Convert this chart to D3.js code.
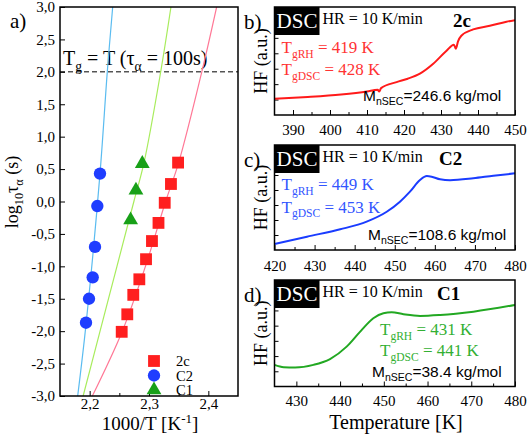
<!DOCTYPE html>
<html><head><meta charset="utf-8">
<script src="https://cdn.jsdelivr.net/npm/d3@7/dist/d3.min.js"></script>
<style>body{margin:0;background:#fff}svg{display:block}</style>
</head><body>
<svg id="c" width="529" height="435"></svg>
<script>
// ---------- Panel a data ----------
const seriesNames = ["2c", "C2", "C1"];
const x2c = [2.349, 2.337, 2.3265, 2.316, 2.305, 2.295, 2.2837, 2.2735, 2.2634, 2.254];
const y2c = [0.60, 0.27, -0.02, -0.33, -0.61, -0.89, -1.20, -1.44, -1.74, -2.01];
const xC2 = [2.2174, 2.2129, 2.209, 2.2051, 2.1989, 2.1938];
const yC2 = [0.43, -0.07, -0.70, -1.17, -1.50, -1.87];
const xC1 = [2.2887, 2.278, 2.269];
const yC1 = [0.60, 0.19, -0.27];
// fit curves
const fit2cX = [2.2045, 2.255, 2.294, 2.328, 2.350, 2.389, 2.414];
const fit2cY = [-3, -2, -1, 0, 0.6, 2, 3];
const fitC2X = [2.1798, 2.1938, 2.2174, 2.2297, 2.2388];
const fitC2Y = [-3, -1.9, 0.43, 2, 3];
const fitC1X = [2.189, 2.2175, 2.246, 2.2745, 2.2916, 2.3197, 2.337];
const fitC1Y = [-3, -2, -1, 0, 0.6, 2, 3];
const aXTicks = [2.2, 2.3, 2.4];
const aXMinor = [2.25, 2.35];
const aYTicks = [-3, -2.5, -2, -1.5, -1, -0.5, 0, 0.5, 1, 1.5, 2, 2.5, 3];
const tgLevel = 2.0;

// ---------- DSC data ----------
const dsc2cT  = [385, 394, 403, 410, 412.9, 413.3, 413.8, 418, 421, 424.3, 427.9, 431.5, 433.5, 434.0, 434.6, 435.5, 438.7, 443.2, 447.7, 450];
const dsc2cHF = [1.05, 1.17, 1.33, 1.52, 1.63, 1.52, 1.74, 2.13, 2.35, 2.68, 3.32, 4.17, 4.56, 4.30, 4.77, 5.14, 5.55, 5.78, 6.05, 6.15];
const dscC2T  = [420, 428.1, 436.4, 443, 448, 451.3, 453.8, 456.3, 458, 459.2, 461.3, 463.8, 469.6, 474.6, 480];
const dscC2HF = [0.40, 0.89, 1.38, 1.89, 2.55, 3.22, 3.89, 4.67, 4.93, 4.89, 4.71, 4.65, 4.78, 4.95, 5.11];
const dscC1T  = [425, 427.1, 429.7, 433.9, 437.7, 441.5, 444.6, 447.6, 449.9, 451.8, 454.5, 458.3, 462.9, 470.5, 480];
const dscC1HF = [1.42, 1.27, 1.25, 1.42, 1.80, 2.62, 3.61, 4.49, 4.82, 4.88, 4.75, 4.64, 4.70, 4.92, 5.36];
const bXTicks = [390, 400, 410, 420, 430, 440, 450];
const cXTicks = [420, 430, 440, 450, 460, 470, 480];
const dXTicks = [430, 440, 450, 460, 470, 480];
const dscYTicks = [1, 2, 3, 4, 5, 6];

const SERIF = "'Liberation Serif','Times New Roman',serif";
const SANS = "'Liberation Sans',Arial,sans-serif";
const svg = d3.select("#c");

function rich(g, x, y, parts, size, fill, family, anchor, weight) {
  const t = g.append("text").attr("x", x).attr("y", y)
    .attr("font-family", family || SERIF).attr("font-size", size)
    .attr("fill", fill || "#000").attr("text-anchor", anchor || "start")
    .attr("font-weight", weight || "normal");
  let cur = 0;
  parts.forEach(p => {
    const [txt, kind] = p;
    let target = 0, fs = size;
    if (kind === "sub") { target = size * 0.28; fs = size * 0.68; }
    if (kind === "sup") { target = -size * 0.38; fs = size * 0.68; }
    t.append("tspan").attr("dy", target - cur).attr("font-size", fs).text(txt);
    cur = target;
  });
  return t;
}
function styleAxis(a) {
  a.attr("font-family", SERIF).attr("font-size", 15);
  a.select(".domain").remove();
  a.selectAll("text").attr("font-family", SERIF).attr("font-size", 15).attr("fill", "#000");
}

// ================= Panel a =================
const A = {l: 60, r: 238, t: 7, b: 396};
const xA = d3.scaleLinear().domain([2.15, 2.45]).range([A.l, A.r]);
const yA = d3.scaleLinear().domain([-3, 3]).range([A.b, A.t]);
const ga = svg.append("g");
ga.append("clipPath").attr("id", "clipA").append("rect")
  .attr("x", A.l).attr("y", A.t).attr("width", A.r - A.l).attr("height", A.b - A.t);

const axB = ga.append("g").attr("transform", `translate(0,${A.b})`)
  .call(d3.axisBottom(xA).tickValues(aXTicks).tickSizeInner(-5).tickSizeOuter(0).tickPadding(2)
    .tickFormat(d => d3.format(".1f")(d).replace(".", ",")));
const axBm = ga.append("g").attr("transform", `translate(0,${A.b})`)
  .call(d3.axisBottom(xA).tickValues(aXMinor).tickSizeInner(-3).tickSizeOuter(0).tickFormat(""));
const axL = ga.append("g").attr("transform", `translate(${A.l},0)`)
  .call(d3.axisLeft(yA).tickValues(aYTicks).tickSizeInner(-5).tickSizeOuter(0).tickPadding(5)
    .tickFormat(d => d3.format(".1f")(d).replace(".", ",").replace("−", "-")));
[axB, axBm, axL].forEach(styleAxis);

ga.append("line").attr("x1", A.l).attr("x2", A.r).attr("y1", yA(tgLevel)).attr("y2", yA(tgLevel))
  .attr("stroke", "#000").attr("stroke-width", 1).attr("stroke-dasharray", "5,3");
rich(ga, 63, 65, [["T"], ["g", "sub"], [" = T (τ"], ["α", "sub"], [" = 100s)"]], 20);

const fits = [
  {x: fitC2X, y: fitC2Y, c: "#5bbcf0"},
  {x: fitC1X, y: fitC1Y, c: "#a8ec5c"},
  {x: fit2cX, y: fit2cY, c: "#ff7896"}
];
const fitLine = d3.line().x(d => xA(d[0])).y(d => yA(d[1])).curve(d3.curveCatmullRom);
fits.forEach(f => {
  ga.append("path").attr("clip-path", "url(#clipA)")
    .attr("d", fitLine(d3.zip(f.x, f.y))).attr("fill", "none")
    .attr("stroke", f.c).attr("stroke-width", 1.2);
});

const colRed = "#ff1f1f", colBlue = "#1f3dff", colGreen = "#18a018";
const symSq = d3.symbol().type(d3.symbolSquare).size(140);
const symCi = d3.symbol().type(d3.symbolCircle).size(120);
const symTr = d3.symbol().type(d3.symbolTriangle).size(95);
d3.zip(x2c, y2c).forEach(d => ga.append("path").attr("d", symSq())
  .attr("transform", `translate(${xA(d[0])},${yA(d[1])})`).attr("fill", colRed));
d3.zip(xC2, yC2).forEach(d => ga.append("path").attr("d", symCi())
  .attr("transform", `translate(${xA(d[0])},${yA(d[1])})`).attr("fill", colBlue));
d3.zip(xC1, yC1).forEach(d => ga.append("path").attr("d", symTr())
  .attr("transform", `translate(${xA(d[0])},${yA(d[1]) + 1})`).attr("fill", colGreen));

const legSyms = [symSq, symCi, symTr], legCols = [colRed, colBlue, colGreen];
seriesNames.forEach((n, i) => {
  const y = 361 + i * 14.5;
  ga.append("path").attr("d", legSyms[i]()).attr("transform", `translate(154,${y})`).attr("fill", legCols[i]);
  ga.append("text").attr("x", 176).attr("y", y + 5).attr("font-family", SERIF)
    .attr("font-size", 14.5).text(n);
});

ga.append("rect").attr("x", A.l).attr("y", A.t).attr("width", A.r - A.l).attr("height", A.b - A.t)
  .attr("fill", "none").attr("stroke", "#000").attr("stroke-width", 1.5);

ga.append("text").attr("x", 10).attr("y", 28).attr("font-family", SERIF).attr("font-size", 21).text("a)");
rich(ga, 150, 430, [["1000/T [K"], ["-1", "sup"], ["]"]], 19, "#000", SERIF, "middle");
const yl = ga.append("g").attr("transform", "translate(18,192) rotate(-90)");
rich(yl, 0, 0, [["log"], ["10", "sub"], ["τ"], ["α", "sub"], [" (s)"]], 18, "#000", SERIF, "middle");

// ================= DSC panels =================
function dscPanel(cfg) {
  const P = cfg.box;
  const x = d3.scaleLinear().domain(cfg.xDom).range([P.l, P.r]);
  const y = d3.scaleLinear().domain([0, 7]).range([P.b, P.t]);
  const g = svg.append("g");
  const minor = d3.range(cfg.xDom[0], cfg.xDom[1] + 0.01, 5).filter(v => v % 10 !== 0 && v > cfg.xDom[0] && v < cfg.xDom[1]);
  const ax = g.append("g").attr("transform", `translate(0,${P.b})`)
    .call(d3.axisBottom(x).tickValues(cfg.xTicks).tickSizeInner(-5).tickSizeOuter(0).tickPadding(cfg.pad));
  const axm = g.append("g").attr("transform", `translate(0,${P.b})`)
    .call(d3.axisBottom(x).tickValues(minor).tickSizeInner(-3).tickSizeOuter(0).tickFormat(""));
  const axy = g.append("g").attr("transform", `translate(${P.l},0)`)
    .call(d3.axisLeft(y).tickValues(dscYTicks).tickSizeInner(-4).tickSizeOuter(0).tickFormat(""));
  [ax, axm, axy].forEach(styleAxis);
  g.append("clipPath").attr("id", "clip" + cfg.id).append("rect")
    .attr("x", P.l).attr("y", P.t).attr("width", P.r - P.l).attr("height", P.b - P.t);
  g.append("path").attr("clip-path", `url(#clip${cfg.id})`)
    .attr("d", d3.line().x(d => x(d[0])).y(d => y(d[1])).curve(d3.curveMonotoneX)(d3.zip(cfg.T, cfg.HF)))
    .attr("fill", "none").attr("stroke", cfg.color).attr("stroke-width", 2);
  g.append("rect").attr("x", P.l).attr("y", P.t).attr("width", P.r - P.l).attr("height", P.b - P.t)
    .attr("fill", "none").attr("stroke", "#000").attr("stroke-width", 1.5);
  g.append("rect").attr("x", P.l).attr("y", P.t).attr("width", 45).attr("height", 28).attr("fill", "#000");
  g.append("text").attr("x", P.l + 22.5).attr("y", P.t + 21).attr("text-anchor", "middle")
    .attr("font-family", SERIF).attr("font-size", 21).attr("fill", "#fff").text("DSC");
  g.append("text").attr("x", P.l + 48).attr("y", P.t + 17).attr("font-family", SERIF)
    .attr("font-size", 16).text("HR = 10 K/min");
  g.append("text").attr("x", cfg.nameX).attr("y", P.t + 20).attr("font-family", SERIF)
    .attr("font-size", 19).attr("font-weight", "bold").text(cfg.name);
  g.append("text").attr("x", 244).attr("y", P.t + 22).attr("font-family", SERIF)
    .attr("font-size", 21).text(cfg.letter);
  const hl = g.append("g").attr("transform", `translate(267,${(P.t + P.b) / 2}) rotate(-90)`);
  hl.append("text").attr("text-anchor", "middle").attr("font-family", SERIF).attr("font-size", 18).text("HF (a.u.)");
  rich(g, cfg.tg[0], cfg.tg[1], [["T"], ["gRH", "sub"], [" = " + cfg.tgRH + " K"]], 17, cfg.tcolor);
  rich(g, cfg.tg[0], cfg.tg[1] + cfg.tg[2], [["T"], ["gDSC", "sub"], [" = " + cfg.tgDSC + " K"]], 17, cfg.tcolor);
  rich(g, cfg.mn[0], cfg.mn[1], [["M"], ["nSEC", "sub"], ["=" + cfg.mnVal + " kg/mol"]], 15.5, "#000", SANS);
  return {x, y, g};
}

dscPanel({id: "b", letter: "b)", name: "2c", nameX: 453, box: {l: 274.5, r: 515, t: 7, b: 115}, xDom: [385, 450],
  xTicks: bXTicks, pad: 9, T: dsc2cT, HF: dsc2cHF, color: "#ff1a1a", tcolor: "#ff3333",
  tgRH: 419, tgDSC: 428, tg: [281.5, 53, 22], mn: [363, 101], mnVal: "246.6"});
dscPanel({id: "c", letter: "c)", name: "C2", nameX: 439, box: {l: 274.5, r: 515, t: 145, b: 250}, xDom: [420, 480],
  xTicks: cXTicks, pad: 10, T: dscC2T, HF: dscC2HF, color: "#1a3cff", tcolor: "#3355ff",
  tgRH: 449, tgDSC: 453, tg: [281.5, 190, 22.5], mn: [368, 240], mnVal: "108.6"});
dscPanel({id: "d", letter: "d)", name: "C1", nameX: 437, box: {l: 274.5, r: 515, t: 280, b: 386.5}, xDom: [425, 480],
  xTicks: dXTicks, pad: 9, T: dscC1T, HF: dscC1HF, color: "#22a822", tcolor: "#33b033",
  tgRH: 431, tgDSC: 441, tg: [380, 335, 21], mn: [372, 376.5], mnVal: "38.4"});
svg.append("text").attr("x", 396).attr("y", 429).attr("text-anchor", "middle")
  .attr("font-family", SERIF).attr("font-size", 20).text("Temperature [K]");
</script>
</body></html>
